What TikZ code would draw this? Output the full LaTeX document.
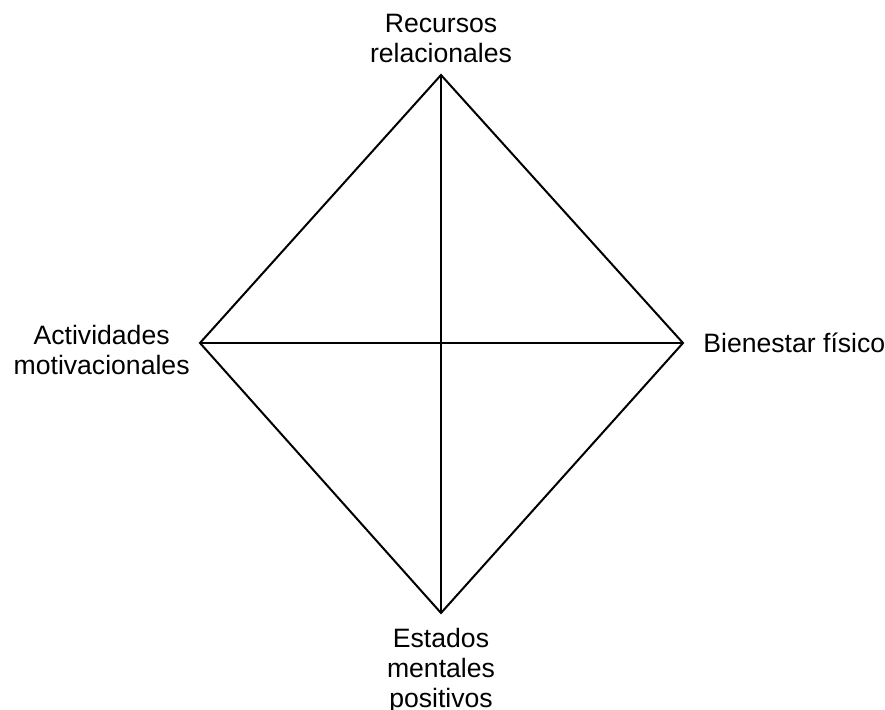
\documentclass[tikz,border=0pt]{standalone}
\usepackage{fontspec}
\setmainfont{Liberation Sans}
\begin{document}
\begin{tikzpicture}[x=0.5pt,y=-0.5pt,
  every node/.style={inner sep=0pt,align=center,font=\fontsize{13.3}{15}\selectfont}]
\useasboundingbox (0,0) rectangle (885,710);
\coordinate (top) at (441,75);
\coordinate (bottom) at (441,613);
\coordinate (left) at (200,343);
\coordinate (right) at (683,343);

\draw[line width=1pt,line join=miter] (top) -- (right) -- (bottom) -- (left) -- cycle;
\draw[line width=0.6pt] (top) -- (bottom) (left) -- (right); % cross

\node[anchor=south] (rel) at (441,63) {Recursos\\relacionales};
\node[anchor=north east] (act) at (190,325) {Actividades\\motivacionales};
\node[anchor=base west] (bien) at (703,353) {Bienestar físico};
\node[anchor=north] (est) at (441,628) {Estados\\mentales\\positivos};
\end{tikzpicture}
\end{document}
